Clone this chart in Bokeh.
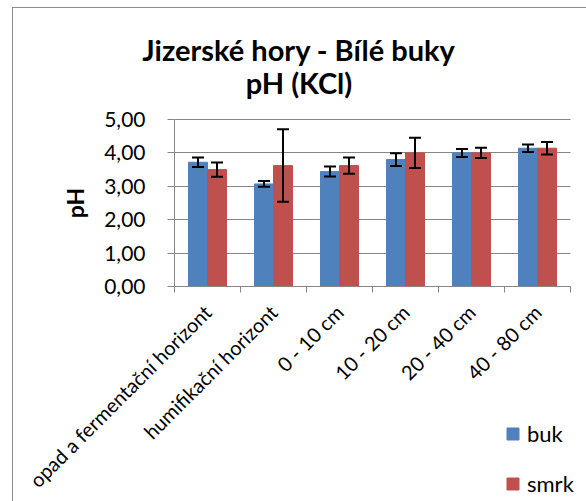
from bokeh.plotting import figure
from bokeh.models import (Range1d, FixedTicker, Whisker, TeeHead, ColumnDataSource,
                          Legend, LegendItem, Label)
from bokeh.embed import file_html
from bokeh.resources import INLINE
import math

# ---- data ----
title_line1 = "Jizerské hory - Bílé buky"
title_line2 = "pH (KCl)"
y_label = "pH"
categories = ["opad a fermentační horizont", "humifikační horizont",
              "0 - 10 cm", "10 - 20 cm", "20 - 40 cm", "40 - 80 cm"]
series_names = ["buk", "smrk"]
buk = [3.72, 3.07, 3.44, 3.80, 4.00, 4.14]
buk_err = [0.14, 0.085, 0.15, 0.19, 0.12, 0.115]
smrk = [3.50, 3.62, 3.62, 4.00, 4.00, 4.14]
smrk_err = [0.215, 1.085, 0.245, 0.45, 0.155, 0.19]
y_ticks = [0, 1, 2, 3, 4, 5]

# ---- style / layout (pixels) ----
FONT = "Lato"
BLUE = "#4F81BD"
RED = "#C0504D"
GRAY = "#868686"
BAR_W = 0.288
OFFS = [-0.144, 0.144]
W, H = 586, 501
PL, PR, PT, PB = 174, 570, 119, 286   # plot-area edges on the canvas

n = len(categories)
centers = [i + 0.5 for i in range(n)]
bounds = [float(i) for i in range(n + 1)]
ymin, ymax = y_ticks[0], y_ticks[-1]

ux = (PR - PL) / n
uy = (PB - PT) / (ymax - ymin)
x_range = Range1d(-PL / ux, n + (W - PR) / ux)
y_range = Range1d(ymin - (H - PB) / uy, ymax + PT / uy)

p = figure(width=W, height=H, output_backend="svg", toolbar_location=None,
           title=None, x_range=x_range, y_range=y_range,
           min_border=0, min_border_left=0, min_border_right=0,
           min_border_top=0, min_border_bottom=0)
p.border_fill_color = None
p.background_fill_color = None
p.outline_line_color = None
p.styles = {"box-shadow": "inset 12px 7px 0 0 white, inset 13px 8px 0 0 #8c8c8c"}

renderers = []
for vals, errs, col, off in [(buk, buk_err, BLUE, OFFS[0]), (smrk, smrk_err, RED, OFFS[1])]:
    xs = [c + off for c in centers]
    src = ColumnDataSource(dict(x=xs, top=vals,
                                upper=[v + e for v, e in zip(vals, errs)],
                                lower=[v - e for v, e in zip(vals, errs)]))
    r = p.vbar(x="x", top="top", bottom=0, width=BAR_W, source=src,
               fill_color=col, line_color=col, line_width=1)
    renderers.append(r)
    w = Whisker(base="x", upper="upper", lower="lower", source=src,
                line_color="black", line_width=2, level="overlay",
                upper_head=TeeHead(size=12, line_width=2, line_color="black"),
                lower_head=TeeHead(size=12, line_width=2, line_color="black"))
    p.add_layout(w)

# x axis
xa = p.xaxis[0]
xa.fixed_location = ymin
xa.bounds = (0, n)
xa.ticker = FixedTicker(ticks=centers, minor_ticks=bounds)
xa.major_label_overrides = {c: name for c, name in zip(centers, categories)}
xa.major_label_orientation = math.pi / 4
xa.major_tick_line_color = None
xa.minor_tick_line_color = GRAY
xa.minor_tick_in = 0
xa.minor_tick_out = 6
xa.axis_line_color = GRAY
xa.major_label_text_font = FONT
xa.major_label_text_font_size = "20px"
xa.major_label_text_color = "black"
xa.major_label_standoff = 16

# y axis
ya = p.yaxis[0]
ya.fixed_location = 0
ya.bounds = (ymin, ymax)
ya.ticker = FixedTicker(ticks=y_ticks)
ya.major_label_overrides = {t: f"{t:.2f}".replace(".", ",") for t in y_ticks}
ya.major_tick_in = 0
ya.major_tick_out = 7
ya.major_tick_line_color = GRAY
ya.minor_tick_line_color = None
ya.axis_line_color = GRAY
ya.major_label_text_font = FONT
ya.major_label_text_font_size = "21px"
ya.major_label_text_color = "black"
ya.major_label_standoff = 22
ya.axis_label = y_label
ya.axis_label_text_font = FONT
ya.axis_label_text_font_style = "bold"
ya.axis_label_text_font_size = "23px"
ya.axis_label_text_color = "black"
ya.axis_label_standoff = 12

p.xgrid.grid_line_color = None
p.ygrid.grid_line_color = GRAY
p.ygrid.grid_line_width = 1
p.ygrid.cross_bounds = (0, n)

# title (two centered lines); screen units from canvas bottom-left
for txt, yy in [(title_line1, H - 49), (title_line2, H - 82)]:
    p.add_layout(Label(x=298.5, y=yy, x_units="screen", y_units="screen", text=txt,
                       text_align="center", text_baseline="alphabetic",
                       text_font=FONT, text_font_style="bold",
                       text_font_size="29px", text_color="black"))

legend = Legend(items=[LegendItem(label=nm, renderers=[r]) for nm, r in zip(series_names, renderers)],
                location=(505, 4), orientation="vertical",
                glyph_width=15, glyph_height=15, label_height=15, spacing=23,
                padding=0, margin=0, border_line_color=None, background_fill_alpha=0,
                label_standoff=7, label_text_font=FONT, label_text_font_size="22px",
                label_text_color="black")
p.add_layout(legend)

open("out.html", "w").write(file_html(p, INLINE))
